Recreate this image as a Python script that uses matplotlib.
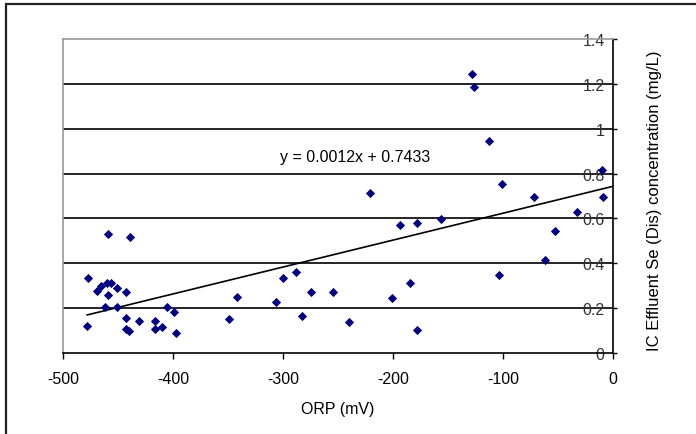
import matplotlib
matplotlib.use("Agg")
from matplotlib import pyplot as plt
from matplotlib.patches import Rectangle
import numpy as np

plt.rcParams['font.family'] = ['Liberation Sans', 'DejaVu Sans']

# ORP (mV) vs IC effluent Se (dissolved) concentration (mg/L)
orp_mv = [-478, -477, -469, -465, -460, -456, -451, -443, -459, -459,
          -439, -462, -451, -443, -443, -440, -431, -416, -416, -410,
          -405, -399, -397, -349, -342, -306, -300, -288, -283, -275,
          -255, -240, -221, -201, -194, -185, -178, -178, -156, -128,
          -126, -113, -104, -101, -72, -62, -53, -33, -10, -9]
se_mg_l = [0.120, 0.335, 0.277, 0.299, 0.314, 0.311, 0.292, 0.274, 0.258, 0.529,
           0.516, 0.207, 0.207, 0.156, 0.105, 0.098, 0.141, 0.141, 0.107, 0.114,
           0.203, 0.181, 0.089, 0.150, 0.249, 0.228, 0.333, 0.359, 0.163, 0.270,
           0.274, 0.136, 0.714, 0.243, 0.570, 0.314, 0.578, 0.104, 0.596, 1.244,
           1.185, 0.944, 0.347, 0.754, 0.695, 0.413, 0.544, 0.630, 0.818, 0.695]

# linear trendline as reported on the chart
slope = 0.0012
intercept = 0.7433
trend_x = [-478, 0]

x_ticks = [-500, -400, -300, -200, -100, 0]
y_ticks = [0, 0.2, 0.4, 0.6, 0.8, 1.0, 1.2, 1.4]
y_labels = ["0", "0.2", "0.4", "0.6", "0.8", "1", "1.2", "1.4"]

fs = 11.5

fig = plt.figure(figsize=(6.96, 4.35), dpi=100)
ax = fig.add_axes([63 / 696, 81 / 435, 550 / 696, 314 / 435])

# outer chart frame (runs off the bottom/right of the image)
fig.patches.append(Rectangle((6 / 696, -0.1), 1.2, 1.1 - 5 / 435, transform=fig.transFigure,
                             fill=False, edgecolor="#222222", linewidth=1.6))

for yv in y_ticks[1:-1]:
    ax.axhline(yv, color="black", linewidth=1.2, zorder=1)

ax.scatter(orp_mv, se_mg_l, marker="D", s=22, color="#000080", zorder=3, linewidths=0)

tx = np.array(trend_x)
ax.plot(tx, slope * tx + intercept, color="black", linewidth=1.2, zorder=2)
ax.text(-234, 0.875, "y = 0.0012x + 0.7433", ha="center", va="center", fontsize=fs)

ax.set_xlim(-500, 0)
ax.set_ylim(0, 1.4)
ax.set_xticks(x_ticks)
ax.set_xticklabels([str(v) for v in x_ticks])
ax.set_yticks(y_ticks)
ax.set_yticklabels(y_labels)

ax.yaxis.tick_right()
ax.tick_params(axis="y", direction="out", length=3, width=1, pad=-9, labelsize=fs, colors="black")
for lab in ax.get_yticklabels():
    lab.set_horizontalalignment("right")
    lab.set_color("#333333")
ax.tick_params(axis="x", direction="out", length=4, width=1, pad=9, labelsize=fs)

for side in ("left", "top"):
    ax.spines[side].set_color("#999999")
    ax.spines[side].set_linewidth(1.2)
for side in ("right", "bottom"):
    ax.spines[side].set_color("black")
    ax.spines[side].set_linewidth(1.2)

ax.set_xlabel("ORP (mV)", fontsize=fs, labelpad=11)
fig.text(655 / 696, 1 - 201 / 435, "IC Effluent Se (Dis) concentration (mg/L)", rotation=90,
         ha="center", va="center", fontsize=12)

fig.savefig("out.png", dpi=100)
